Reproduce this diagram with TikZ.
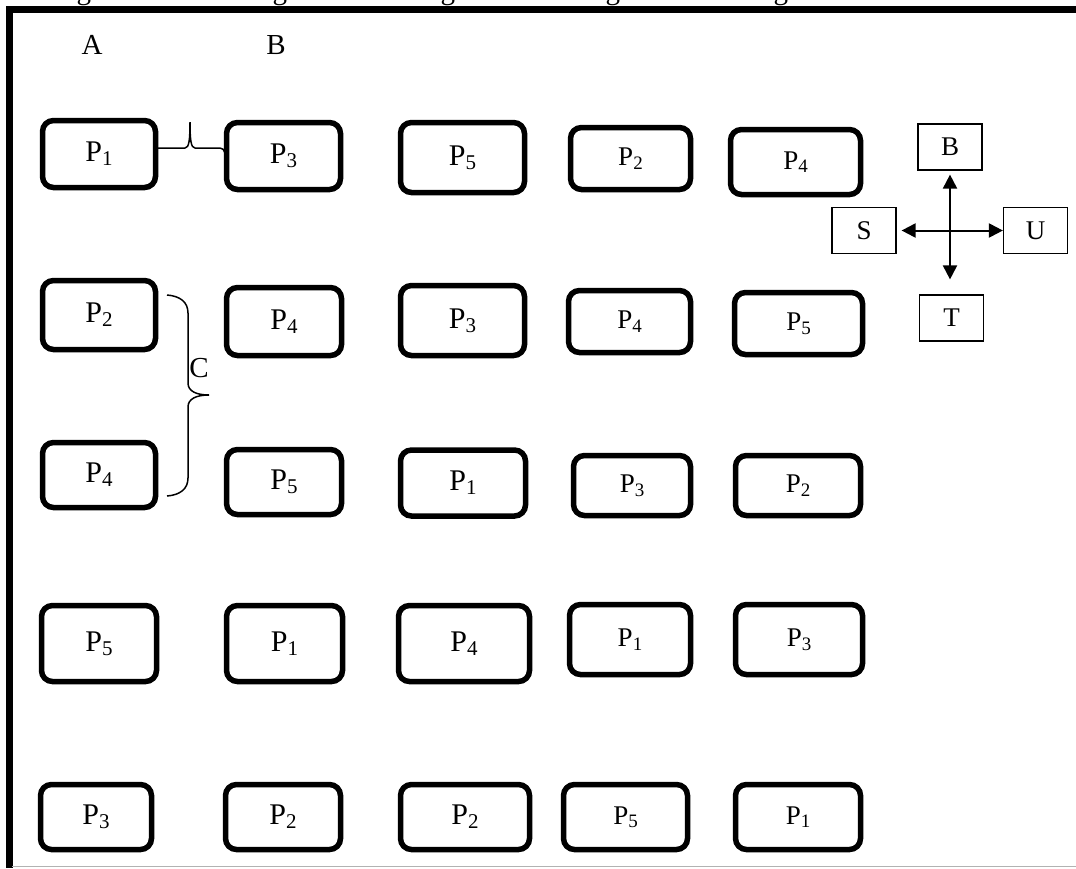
\documentclass[tikz,border=0pt]{standalone}
\usepackage{fontspec}
\setmainfont{Liberation Serif}
\usetikzlibrary{arrows.meta}
\newcommand{\PA}[1]{P\raisebox{-4pt}{\fontsize{21}{21}\selectfont #1}}
\newcommand{\PB}[1]{P\raisebox{-3.5pt}{\fontsize{19}{19}\selectfont #1}}
\tikzset{
  pbox/.style={draw, line width=5.5pt, rounded corners=11pt, inner sep=0pt, fill=white},
  pbig/.style={pbox, font=\fontsize{30}{32}\selectfont},
  psmall/.style={pbox, font=\fontsize{27}{29}\selectfont},
  cbox/.style={draw, line width=1.2pt, minimum width=64pt, minimum height=46pt, inner sep=0pt, font=\fontsize{27}{29}\selectfont},
  lbl/.style={font=\fontsize{29}{31}\selectfont, inner sep=0pt},
  brace/.style={line width=1.5pt},
  carrow/.style={line width=2pt, {Triangle[length=14pt,width=14pt]}-{Triangle[length=14pt,width=14pt]}}
}
\begin{document}
\begin{tikzpicture}[x=1pt,y=-1pt]
\useasboundingbox (0,0) rectangle (1076,868);
\clip (0,0) rectangle (1076,868);
% header labels (cut off at top, as in the source)
\node[lbl, anchor=base west] (u1) at (20,-0.5) {Ulangan I};
\node[lbl, anchor=base west] (u2) at (216,-0.5) {Ulangan II};
\node[lbl, anchor=base west] (u3) at (384,-0.5) {Ulangan III};
\node[lbl, anchor=base west] (u4) at (549,-0.5) {Ulangan IV};
\node[lbl, anchor=base west] (u5) at (717,-0.5) {Ulangan V};
% frame
\draw[line width=6.7pt] (6,9.4) -- (1076,9.4);
\draw[line width=6.7pt] (9.4,6) -- (9.4,868);
\draw[line width=1.5pt, gray!60] (12,866.5) -- (1076,866.5);
% labels
\node[lbl] (A) at (92,45) {A};
\node[lbl] (Bl) at (276,45) {B};
% row 1
\node[pbig, minimum width=113pt, minimum height=67pt] (r1c1) at (99,154) {\PA{1}};
\node[pbig, minimum width=114pt, minimum height=67pt] (r1c2) at (283.5,156) {\PA{3}};
\node[pbig, minimum width=124pt, minimum height=70pt] (r1c3) at (462.5,157.5) {\PA{5}};
\node[psmall, minimum width=120pt, minimum height=62pt] (r1c4) at (630.5,158.5) {\PB{2}};
\node[psmall, minimum width=130pt, minimum height=65pt] (r1c5) at (795.5,162) {\PB{4}};
% row 2
\node[pbig, minimum width=113pt, minimum height=69pt] (r2c1) at (99,315) {\PA{2}};
\node[pbig, minimum width=115pt, minimum height=68pt] (r2c2) at (284,321.5) {\PA{4}};
\node[pbig, minimum width=124pt, minimum height=70pt] (r2c3) at (462.5,320.5) {\PA{3}};
\node[psmall, minimum width=122pt, minimum height=62pt] (r2c4) at (629.5,321.5) {\PB{4}};
\node[psmall, minimum width=128pt, minimum height=62pt] (r2c5) at (798.5,323.5) {\PB{5}};
% row 3
\node[pbig, minimum width=113pt, minimum height=65pt] (r3c1) at (99,475) {\PA{4}};
\node[pbig, minimum width=115pt, minimum height=65pt] (r3c2) at (284,482) {\PA{5}};
\node[pbig, minimum width=125pt, minimum height=66pt] (r3c3) at (463,483) {\PA{1}};
\node[psmall, minimum width=117pt, minimum height=60pt] (r3c4) at (632,485.5) {\PB{3}};
\node[psmall, minimum width=125pt, minimum height=60pt] (r3c5) at (798,485.5) {\PB{2}};
% row 4
\node[pbig, minimum width=115pt, minimum height=76pt] (r4c1) at (99,643.5) {\PA{5}};
\node[pbig, minimum width=116pt, minimum height=76pt] (r4c2) at (284.5,643.5) {\PA{1}};
\node[pbig, minimum width=131pt, minimum height=76pt] (r4c3) at (464,643.5) {\PA{4}};
\node[psmall, minimum width=121pt, minimum height=70pt] (r4c4) at (630,639.5) {\PB{1}};
\node[psmall, minimum width=127pt, minimum height=70pt] (r4c5) at (799,639.5) {\PB{3}};
% row 5
\node[pbig, minimum width=111pt, minimum height=65pt] (r5c1) at (96,817) {\PA{3}};
\node[pbig, minimum width=115pt, minimum height=65pt] (r5c2) at (283,817) {\PA{2}};
\node[pbig, minimum width=129pt, minimum height=65pt] (r5c3) at (465,817) {\PA{2}};
\node[psmall, minimum width=124pt, minimum height=65pt] (r5c4) at (625.5,817) {\PB{5}};
\node[psmall, minimum width=125pt, minimum height=65pt] (r5c5) at (798,817) {\PB{1}};
% brace between P1 and P3
\draw[brace] (158,148) -- (185,148) .. controls (189,148) and (190,140) .. (190,122)
  .. controls (190,140) and (191,148) .. (195,148) -- (220,148) .. controls (223,148) and (224,150) .. (225,153);
% brace C
\draw[brace] (167,295) .. controls (180,296) and (188,302) .. (188,313) -- (188,383)
  .. controls (188,391) and (196,395) .. (209,395)
  .. controls (196,395) and (188,399) .. (188,407) -- (188,478)
  .. controls (188,489) and (180,495) .. (167,496);
\node[lbl] (C) at (199,368) {C};
% compass
\node[cbox] (cb) at (950,147) {B};
\node[cbox] (cs) at (864,230.5) {S};
\node[cbox] (cu) at (1035.5,230.5) {U};
\node[cbox] (ct) at (951.5,318) {T};
\draw[carrow, shorten <=5pt] (cs.east) -- (cu.west);
\draw[carrow, shorten <=4pt, shorten >=15pt] (cb.south) -- (cb.south |- ct.north);
\end{tikzpicture}
\end{document}
